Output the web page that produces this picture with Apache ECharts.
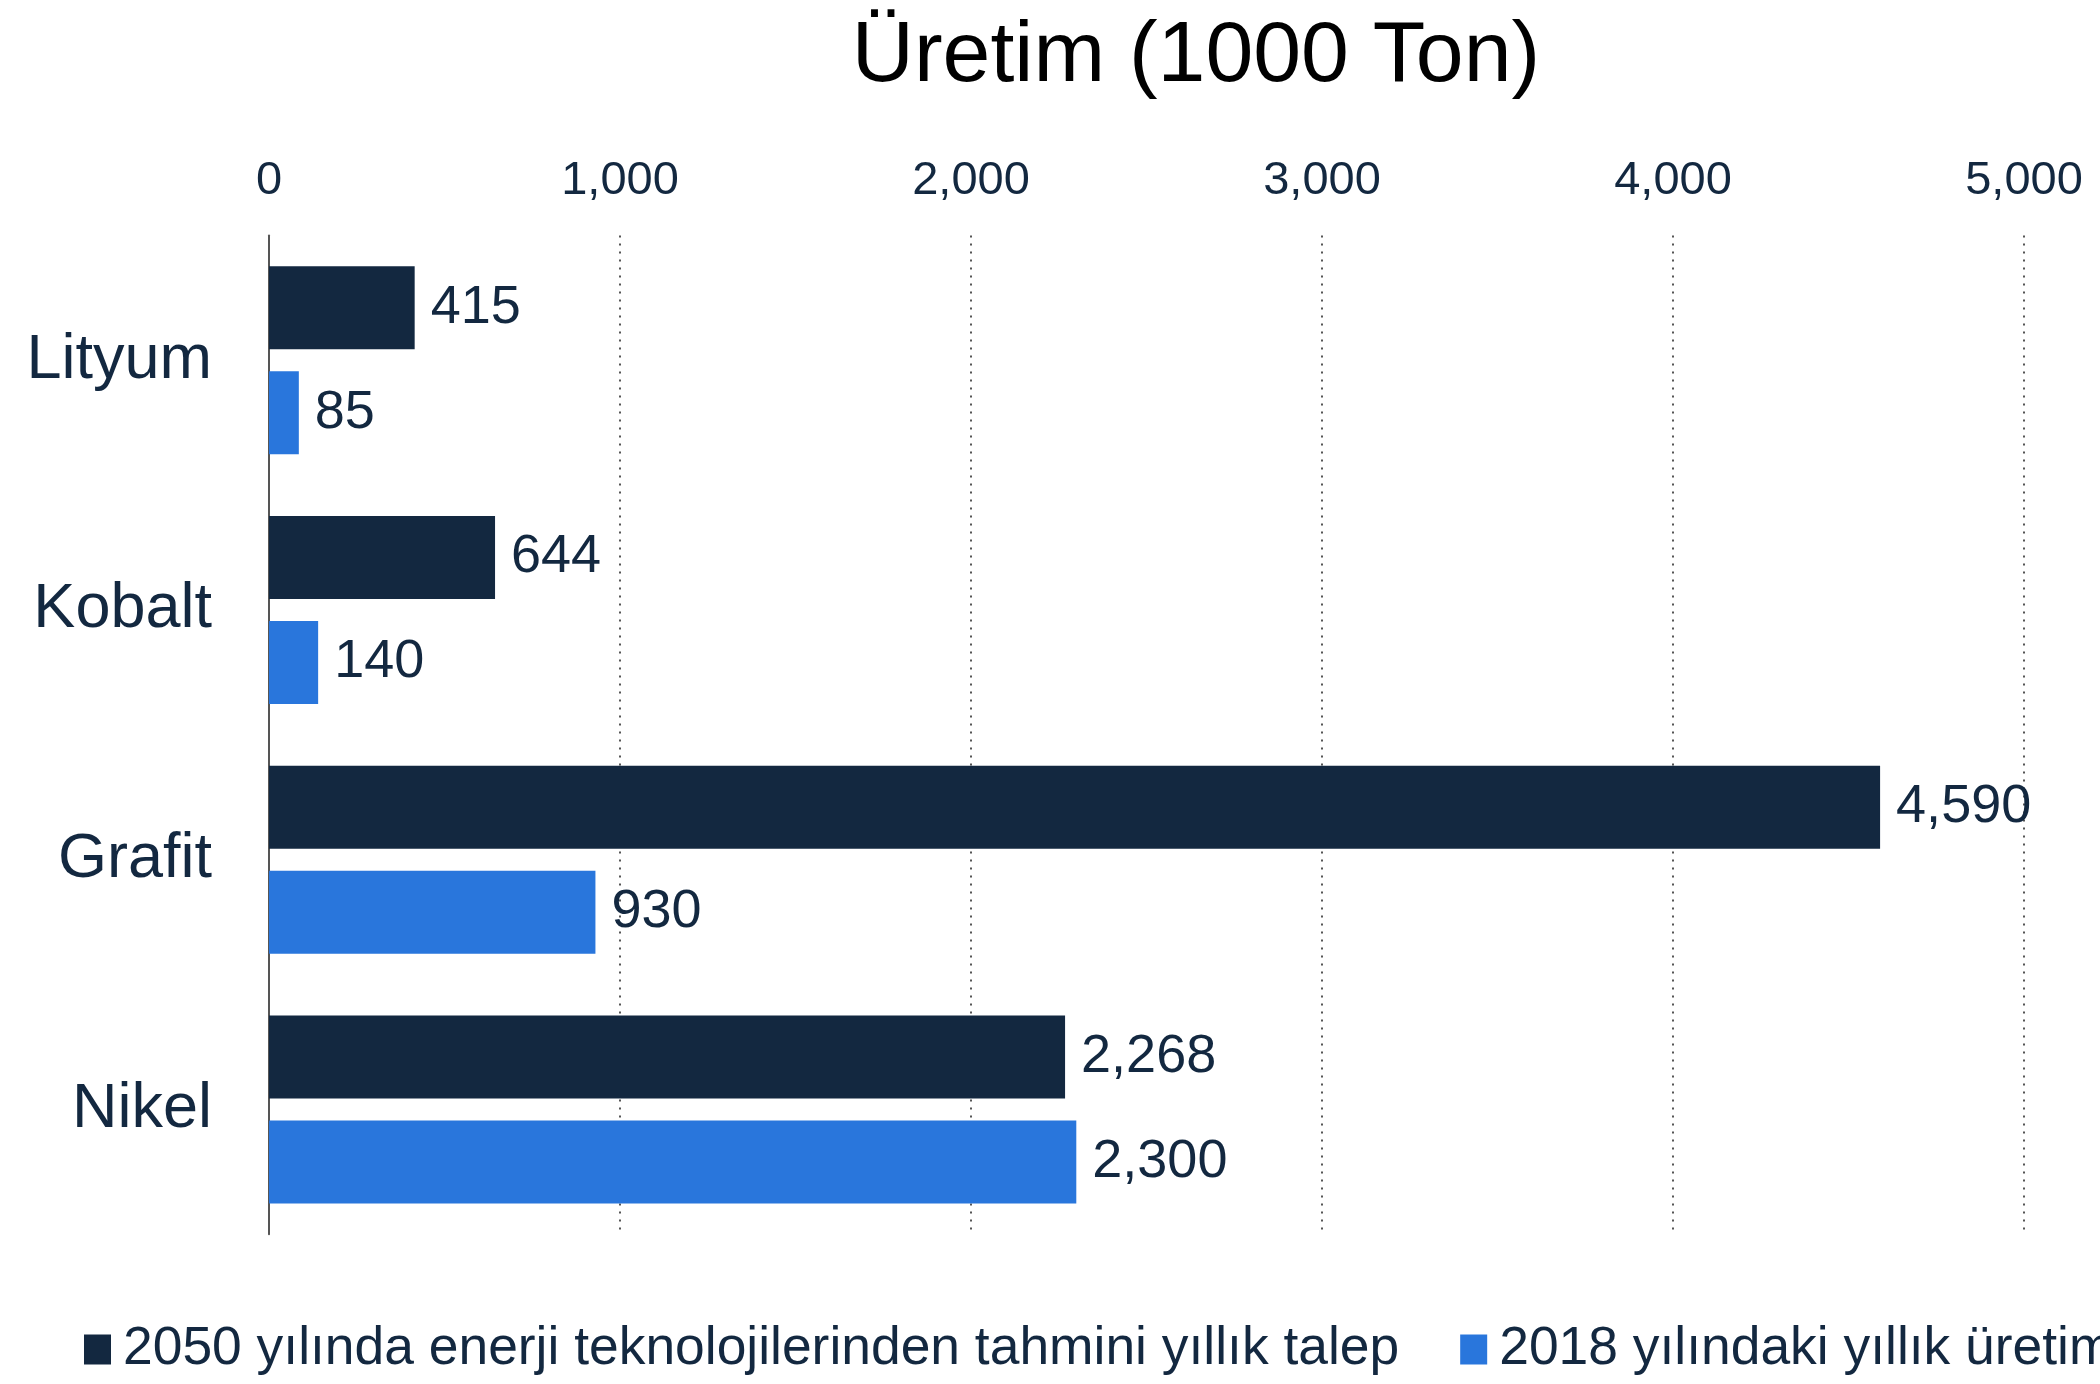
<!DOCTYPE html>
<html>
<head>
<meta charset="utf-8">
<script src="https://cdn.jsdelivr.net/npm/echarts@6/dist/echarts.min.js"></script>
<style>html,body{margin:0;padding:0;background:#fff;}#c{width:2100px;height:1384px;}</style>
</head>
<body>
<div id="c"></div>
<script>
const categories = ["Lityum", "Kobalt", "Grafit", "Nikel"];
const seriesNames = ["2050 yılında enerji teknolojilerinden tahmini yıllık talep", "2018 yılındaki yıllık üretim"];
const demand2050 = [415, 644, 4590, 2268];
const production2018 = [85, 140, 930, 2300];
const xTicks = [0, 1000, 2000, 3000, 4000, 5000];

const FONT = "'Liberation Sans', Arial, sans-serif";
const NAVY = "#132840";
const BLUE = "#2976dc";
const fmt = v => v.toLocaleString('en-US');

const chart = echarts.init(document.getElementById('c'));
chart.setOption({
  backgroundColor: '#fff',
  animation: false,
  title: {
    text: "Üretim (1000 Ton)",
    left: 1191, top: 9, textAlign: 'center',
    textStyle: { fontFamily: FONT, fontSize: 86, fontWeight: 'normal', color: '#000' }
  },
  legend: {
    left: 84, top: 1323, width: 4000, padding: 0,
    itemWidth: 27, itemHeight: 30, itemGap: 61,
    icon: 'rect',
    textStyle: { fontFamily: FONT, fontSize: 53.4, color: NAVY, padding: [0, 0, 0, 7] },
    data: seriesNames
  },
  grid: { left: 269, right: 76, top: 235.5, bottom: 149.7, containLabel: false },
  xAxis: {
    type: 'value', position: 'top',
    min: xTicks[0], max: xTicks[xTicks.length - 1], interval: 1000,
    axisLine: { show: false }, axisTick: { show: false },
    axisLabel: { fontFamily: FONT, fontSize: 47, color: NAVY, margin: 31, formatter: v => fmt(v) },
    splitLine: { show: true, lineStyle: { type: [2, 6], color: '#555', width: 2 } }
  },
  yAxis: {
    type: 'category', inverse: true, data: categories,
    axisLine: { show: true, lineStyle: { color: '#555', width: 2 } },
    axisTick: { show: false },
    axisLabel: { fontFamily: FONT, fontSize: 63, color: NAVY, margin: 57 }
  },
  series: [
    {
      name: seriesNames[0], type: 'bar', data: demand2050,
      barWidth: 83, barGap: '26.5%',
      itemStyle: { color: NAVY },
      label: { show: true, position: 'right', distance: 16, fontFamily: FONT, fontSize: 54, color: NAVY, formatter: p => fmt(p.value) }
    },
    {
      name: seriesNames[1], type: 'bar', data: production2018,
      barWidth: 83, barGap: '26.5%',
      itemStyle: { color: BLUE },
      label: { show: true, position: 'right', distance: 16, fontFamily: FONT, fontSize: 54, color: NAVY, formatter: p => fmt(p.value) }
    }
  ]
});
</script>
</body>
</html>
